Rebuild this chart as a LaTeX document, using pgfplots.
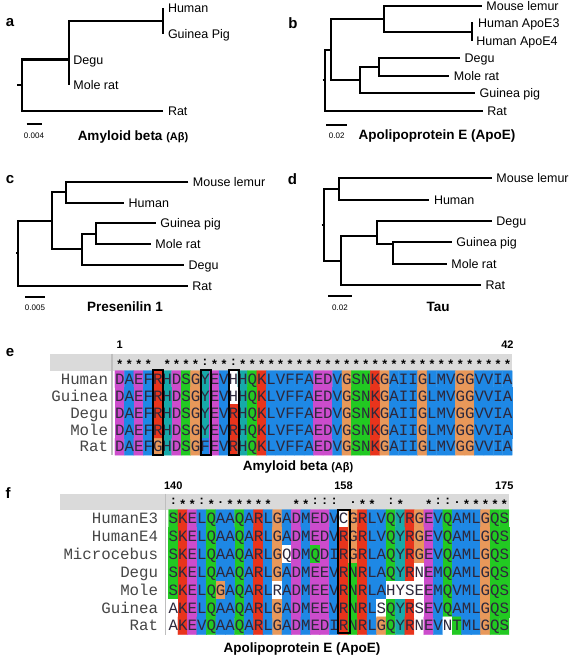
\documentclass[border=0pt]{standalone}
\usepackage{pgfplots}
\pgfplotsset{compat=1.18}
\usepackage{fontspec}
\setmainfont{Liberation Sans}
\newfontfamily\seqfont{Liberation Mono}
\definecolor{hdr}{RGB}{218,218,218}
\definecolor{sepc}{RGB}{190,190,190}
\definecolor{seqtxt}{RGB}{45,40,60}
\definecolor{nametxt}{RGB}{70,70,70}
\pgfplotsset{
  colormap={clustal}{rgb255=(255,255,255) rgb255=(30,136,229) rgb255=(232,52,28) rgb255=(204,76,204) rgb255=(34,201,34) rgb255=(232,152,90) rgb255=(23,169,169)},
  treeax/.style={scale only axis, axis lines=none, clip=false, y dir=reverse, anchor=north west, ymin=1, xmin=0},
  alnax/.style={scale only axis, axis lines=none, clip=false, y dir=reverse, anchor=north west, colormap name=clustal, colormap access=direct},
  br/.style={black, line width=2pt, line join=miter, no markers},
  bx/.style={black, line width=2pt, line join=miter, line cap=rect, no markers},
}
\tikzset{
  lab/.style={anchor=base west, inner sep=0pt, xshift=4.5pt, yshift=-4.5pt, font=\fontsize{12.5}{14}\selectfont},
  plet/.style={font=\bfseries\fontsize{15}{18}\selectfont, inner sep=0pt},
  ttl/.style={anchor=base, inner sep=0pt, yshift=-4.8pt, font=\bfseries\fontsize{13.5}{16}\selectfont},
  scl/.style={inner sep=0pt, font=\fontsize{8}{9}\selectfont},
  seq/.style={anchor=base west, inner sep=0pt, yshift=-5.2pt, text=seqtxt},
  nam/.style={anchor=base east, inner sep=0pt, yshift=-5.2pt, text=nametxt},
  num/.style={inner sep=0pt, font=\bfseries\fontsize{11}{13}\selectfont},
}
\newcommand\sq[1]{{\seqfont\fontsize{15.76}{18}\selectfont #1}}
\newcommand\cons[1]{{\bfseries\fontsize{12.5}{14}\selectfont\consi#1\relax}}
\def\consi#1{\ifx#1\relax\else\makebox[9.457pt]{\conschar#1}\expandafter\consi\fi}
\def\conschar#1{\ifx#1:\raisebox{3.2pt}{:}\else\ifx#1.\raisebox{4.4pt}{.}\else\ifx#1-\else#1\fi\fi\fi}
\begin{document}
\begin{tikzpicture}
\path[use as bounding box, fill=white] (0,0) rectangle (572pt,-661pt);
% panel letters
\node[plet] at (10pt,-23pt) {a};
\node[plet] at (293pt,-23pt) {b};
\node[plet] at (10pt,-180pt) {c};
\node[plet] at (292.5pt,-179pt) {d};
\node[plet] at (10pt,-352.7pt) {e};
\node[plet] at (8pt,-493.3pt) {f};
% titles and scale labels
\node[ttl] at (133pt,-136pt) {Amyloid beta {\fontsize{11}{13}\selectfont(Aβ)}};
\node[ttl] at (437pt,-135pt) {Apolipoprotein E (ApoE)};
\node[ttl] at (125pt,-306.5pt) {Presenilin 1};
\node[ttl] at (438pt,-306.5pt) {Tau};
\node[ttl] at (298pt,-466pt) {Amyloid beta {\fontsize{11}{13}\selectfont(Aβ)}};
\node[ttl] at (302pt,-647.3pt) {Apolipoprotein E (ApoE)};
\node[scl] at (34pt,-136pt) {0.004};
\node[scl] at (336.7pt,-136pt) {0.02};
\node[scl] at (35pt,-307.5pt) {0.005};
\node[scl] at (340pt,-307.5pt) {0.02};

% ---------- tree a : Amyloid beta ----------
\begin{axis}[treeax, at={(21.7pt,-8pt)}, width=150pt, height=103pt, xmax=0.04, ymax=5]
\addplot[br] coordinates {(-0.00125,4) (0,4)};
\addplot[br] coordinates {(0.01253,3) (0,3) (0,5) (0.03776,5)};
\addplot[br] coordinates {(0.03776,1.5) (0.01253,1.5) (0.01253,4)};
\addplot[br] coordinates {(0.03776,1) (0.03776,2)};
\addplot[br] coordinates {(0.00133,5.52) (0.00533,5.52)};
\node[lab] at (axis cs:0.03776,1) {Human};
\node[lab] at (axis cs:0.03776,2) {Guinea Pig};
\node[lab] at (axis cs:0.01253,3) {Degu};
\node[lab] at (axis cs:0.01253,4) {Mole rat};
\node[lab] at (axis cs:0.03776,5) {Rat};
\end{axis}

% ---------- tree b : ApoE ----------
\begin{axis}[treeax, at={(325pt,-6pt)}, width=160pt, height=105pt, xmax=0.1501, ymax=7]
\addplot[br] coordinates {(-0.0022,5.25) (0,5.25)};
\addplot[br] coordinates {(0.00535,3.5) (0,3.5) (0,7) (0.1479,7)};
\addplot[br] coordinates {(0.0556,1.75) (0.00535,1.75) (0.00535,5.25) (0.0328,5.25)};
\addplot[br] coordinates {(0.1470,1) (0.0556,1) (0.0556,2.5) (0.1376,2.5)};
\addplot[br] coordinates {(0.1393,2) (0.1376,2) (0.1376,3)};
\addplot[br] coordinates {(0.0507,4.5) (0.0328,4.5) (0.0328,6) (0.1407,6)};
\addplot[br] coordinates {(0.1266,4) (0.0507,4) (0.0507,5) (0.1166,5)};
\addplot[br] coordinates {(0.00094,7.82) (0.02092,7.82)};
\node[lab] at (axis cs:0.1470,1) {Mouse lemur};
\node[lab] at (axis cs:0.1393,2) {Human ApoE3};
\node[lab] at (axis cs:0.1376,3) {Human ApoE4};
\node[lab] at (axis cs:0.1266,4) {Degu};
\node[lab] at (axis cs:0.1166,5) {Mole rat};
\node[lab] at (axis cs:0.1407,6) {Guinea pig};
\node[lab] at (axis cs:0.1479,7) {Rat};
\end{axis}

% ---------- tree c : Presenilin 1 ----------
\begin{axis}[treeax, at={(18.3pt,-181.7pt)}, width=172pt, height=104pt, xmax=0.043, ymax=6]
\addplot[br] coordinates {(-0.0005,4.44) (0,4.44)};
\addplot[br] coordinates {(0.0085,2.875) (0,2.875) (0,6) (0.04235,6)};
\addplot[br] coordinates {(0.01193,1.5) (0.0085,1.5) (0.0085,4.25) (0.016,4.25)};
\addplot[br] coordinates {(0.0425,1) (0.01193,1) (0.01193,2) (0.02643,2)};
\addplot[br] coordinates {(0.01935,3.5) (0.016,3.5) (0.016,5) (0.04143,5)};
\addplot[br] coordinates {(0.03435,3) (0.01935,3) (0.01935,4) (0.0331,4)};
\addplot[br] coordinates {(0.00168,6.53) (0.00668,6.53)};
\node[lab] at (axis cs:0.0425,1) {Mouse lemur};
\node[lab] at (axis cs:0.02643,2) {Human};
\node[lab] at (axis cs:0.03435,3) {Guinea pig};
\node[lab] at (axis cs:0.0331,4) {Mole rat};
\node[lab] at (axis cs:0.04143,5) {Degu};
\node[lab] at (axis cs:0.04235,6) {Rat};
\end{axis}

% ---------- tree d : Tau ----------
\begin{axis}[treeax, at={(324pt,-178.3pt)}, width=170pt, height=106.7pt, xmax=0.14167, ymax=6]
\addplot[br] coordinates {(-0.0019,3.19) (0,3.19)};
\addplot[br] coordinates {(0.01275,1.5) (0,1.5) (0,4.87) (0.01392,4.87)};
\addplot[br] coordinates {(0.13975,1) (0.01275,1) (0.01275,2) (0.08775,2)};
\addplot[br] coordinates {(0.04442,3.71) (0.01392,3.71) (0.01392,6) (0.13083,6)};
\addplot[br] coordinates {(0.13975,3) (0.04442,3) (0.04442,4.1) (0.05725,4.1)};
\addplot[br] coordinates {(0.10642,4) (0.05725,4) (0.05725,5) (0.10225,5)};
\addplot[br] coordinates {(0.00358,6.53) (0.02358,6.53)};
\node[lab] at (axis cs:0.13975,1) {Mouse lemur};
\node[lab] at (axis cs:0.08775,2) {Human};
\node[lab] at (axis cs:0.13975,3) {Degu};
\node[lab] at (axis cs:0.10642,4) {Guinea pig};
\node[lab] at (axis cs:0.10225,5) {Mole rat};
\node[lab] at (axis cs:0.13083,6) {Rat};
\end{axis}

% ---------- e : Amyloid beta alignment ----------
\begin{axis}[alnax, at={(115pt,-370.7pt)}, width=397.2pt, height=84.5pt, xmin=0.5, xmax=42.5, ymin=0.5, ymax=5.5]
\fill[hdr] (axis cs:-6.37,-0.5) rectangle (axis cs:42.5,0.5);
\draw[sepc, line width=1.5pt] (axis cs:0.183,-0.5) -- (axis cs:0.183,5.5);
\addplot[matrix plot*, mesh/cols=42, point meta=explicit] table[row sep=\\, meta=c] {
x y c\\
1 1 3\\2 1 1\\3 1 3\\4 1 1\\5 1 2\\6 1 6\\7 1 3\\8 1 4\\9 1 5\\10 1 6\\11 1 3\\12 1 1\\13 1 0\\14 1 6\\15 1 4\\16 1 2\\17 1 1\\18 1 1\\19 1 1\\20 1 1\\21 1 1\\
22 1 3\\23 1 3\\24 1 1\\25 1 5\\26 1 4\\27 1 4\\28 1 2\\29 1 5\\30 1 1\\31 1 1\\32 1 1\\33 1 5\\34 1 1\\35 1 1\\36 1 1\\37 1 5\\38 1 5\\39 1 1\\40 1 1\\41 1 1\\42 1 1\\
1 2 3\\2 2 1\\3 2 3\\4 2 1\\5 2 2\\6 2 6\\7 2 3\\8 2 4\\9 2 5\\10 2 6\\11 2 3\\12 2 1\\13 2 0\\14 2 6\\15 2 4\\16 2 2\\17 2 1\\18 2 1\\19 2 1\\20 2 1\\21 2 1\\
22 2 3\\23 2 3\\24 2 1\\25 2 5\\26 2 4\\27 2 4\\28 2 2\\29 2 5\\30 2 1\\31 2 1\\32 2 1\\33 2 5\\34 2 1\\35 2 1\\36 2 1\\37 2 5\\38 2 5\\39 2 1\\40 2 1\\41 2 1\\42 2 1\\
1 3 3\\2 3 1\\3 3 3\\4 3 1\\5 3 2\\6 3 6\\7 3 3\\8 3 4\\9 3 5\\10 3 6\\11 3 3\\12 3 1\\13 3 2\\14 3 6\\15 3 4\\16 3 2\\17 3 1\\18 3 1\\19 3 1\\20 3 1\\21 3 1\\
22 3 3\\23 3 3\\24 3 1\\25 3 5\\26 3 4\\27 3 4\\28 3 2\\29 3 5\\30 3 1\\31 3 1\\32 3 1\\33 3 5\\34 3 1\\35 3 1\\36 3 1\\37 3 5\\38 3 5\\39 3 1\\40 3 1\\41 3 1\\42 3 1\\
1 4 3\\2 4 1\\3 4 3\\4 4 1\\5 4 2\\6 4 6\\7 4 3\\8 4 4\\9 4 5\\10 4 6\\11 4 3\\12 4 1\\13 4 2\\14 4 6\\15 4 4\\16 4 2\\17 4 1\\18 4 1\\19 4 1\\20 4 1\\21 4 1\\
22 4 3\\23 4 3\\24 4 1\\25 4 5\\26 4 4\\27 4 4\\28 4 2\\29 4 5\\30 4 1\\31 4 1\\32 4 1\\33 4 5\\34 4 1\\35 4 1\\36 4 1\\37 4 5\\38 4 5\\39 4 1\\40 4 1\\41 4 1\\42 4 1\\
1 5 3\\2 5 1\\3 5 3\\4 5 1\\5 5 5\\6 5 6\\7 5 3\\8 5 4\\9 5 5\\10 5 1\\11 5 3\\12 5 1\\13 5 2\\14 5 6\\15 5 4\\16 5 2\\17 5 1\\18 5 1\\19 5 1\\20 5 1\\21 5 1\\
22 5 3\\23 5 3\\24 5 1\\25 5 5\\26 5 4\\27 5 4\\28 5 2\\29 5 5\\30 5 1\\31 5 1\\32 5 1\\33 5 5\\34 5 1\\35 5 1\\36 5 1\\37 5 5\\38 5 5\\39 5 1\\40 5 1\\41 5 1\\42 5 1\\
};
\node[seq] at (axis cs:0.5,1) {\sq{DAEFRHDSGYEVHHQKLVFFAEDVGSNKGAIIGLMVGGVVIA}};
\node[seq] at (axis cs:0.5,2) {\sq{DAEFRHDSGYEVHHQKLVFFAEDVGSNKGAIIGLMVGGVVIA}};
\node[seq] at (axis cs:0.5,3) {\sq{DAEFRHDSGYEVRHQKLVFFAEDVGSNKGAIIGLMVGGVVIA}};
\node[seq] at (axis cs:0.5,4) {\sq{DAEFRHDSGYEVRHQKLVFFAEDVGSNKGAIIGLMVGGVVIA}};
\node[seq] at (axis cs:0.5,5) {\sq{DAEFGHDSGFEVRHQKLVFFAEDVGSNKGAIIGLMVGGVVIA}};
\node[nam] at (axis cs:-0.21,1) {\sq{Human}};
\node[nam] at (axis cs:-0.21,2) {\sq{Guinea}};
\node[nam] at (axis cs:-0.21,3) {\sq{Degu}};
\node[nam] at (axis cs:-0.21,4) {\sq{Mole}};
\node[nam] at (axis cs:-0.21,5) {\sq{Rat}};
\node[anchor=base west, inner sep=0pt, yshift=-6.3pt] at (axis cs:0.5,0) {\cons{****-****:**:*****************************}};
\node[num] at (axis cs:1,-1.02) {1};
\node[num] at (axis cs:42,-1.02) {42};
\addplot[bx] coordinates {(4.55,0.46) (5.62,0.46) (5.62,5.47) (4.55,5.47) (4.55,0.46)};
\addplot[bx] coordinates {(9.55,0.46) (10.62,0.46) (10.62,5.47) (9.55,5.47) (9.55,0.46)};
\addplot[bx] coordinates {(12.55,0.46) (13.62,0.46) (13.62,5.47) (12.55,5.47) (12.55,0.46)};
\end{axis}

% ---------- f : ApoE alignment ----------
\begin{axis}[alnax, at={(168.5pt,-509.7pt)}, width=340.45pt, height=125pt, xmin=139.5, xmax=175.5, ymin=0.5, ymax=7.5]
\fill[hdr] (axis cs:128.03,-0.38) rectangle (axis cs:175.5,0.5);
\draw[sepc, line width=1.5pt] (axis cs:139.18,-0.38) -- (axis cs:139.18,7.5);
\addplot[matrix plot*, mesh/cols=36, point meta=explicit] table[row sep=\\, meta=c] {
x y c\\
140 1 4\\141 1 2\\142 1 3\\143 1 1\\144 1 4\\145 1 1\\146 1 1\\147 1 4\\148 1 1\\149 1 2\\150 1 1\\151 1 5\\152 1 1\\153 1 3\\154 1 1\\155 1 3\\156 1 3\\157 1 1\\
158 1 0\\159 1 5\\160 1 2\\161 1 1\\162 1 1\\163 1 4\\164 1 6\\165 1 2\\166 1 5\\167 1 3\\168 1 1\\169 1 4\\170 1 1\\171 1 1\\172 1 1\\173 1 5\\174 1 4\\175 1 4\\
140 2 4\\141 2 2\\142 2 3\\143 2 1\\144 2 4\\145 2 1\\146 2 1\\147 2 4\\148 2 1\\149 2 2\\150 2 1\\151 2 5\\152 2 1\\153 2 3\\154 2 1\\155 2 3\\156 2 3\\157 2 1\\
158 2 2\\159 2 5\\160 2 2\\161 2 1\\162 2 1\\163 2 4\\164 2 6\\165 2 2\\166 2 5\\167 2 3\\168 2 1\\169 2 4\\170 2 1\\171 2 1\\172 2 1\\173 2 5\\174 2 4\\175 2 4\\
140 3 4\\141 3 2\\142 3 3\\143 3 1\\144 3 4\\145 3 1\\146 3 1\\147 3 4\\148 3 1\\149 3 2\\150 3 1\\151 3 5\\152 3 0\\153 3 3\\154 3 1\\155 3 4\\156 3 3\\157 3 1\\
158 3 2\\159 3 5\\160 3 2\\161 3 1\\162 3 1\\163 3 4\\164 3 6\\165 3 2\\166 3 5\\167 3 3\\168 3 1\\169 3 4\\170 3 1\\171 3 1\\172 3 1\\173 3 5\\174 3 4\\175 3 4\\
140 4 4\\141 4 2\\142 4 3\\143 4 1\\144 4 4\\145 4 1\\146 4 1\\147 4 4\\148 4 1\\149 4 2\\150 4 1\\151 4 5\\152 4 1\\153 4 3\\154 4 1\\155 4 3\\156 4 3\\157 4 1\\
158 4 2\\159 4 4\\160 4 2\\161 4 1\\162 4 1\\163 4 4\\164 4 6\\165 4 2\\166 4 0\\167 4 3\\168 4 1\\169 4 4\\170 4 1\\171 4 1\\172 4 1\\173 4 5\\174 4 4\\175 4 4\\
140 5 4\\141 5 2\\142 5 3\\143 5 1\\144 5 4\\145 5 5\\146 5 1\\147 5 4\\148 5 1\\149 5 2\\150 5 1\\151 5 0\\152 5 1\\153 5 3\\154 5 1\\155 5 3\\156 5 3\\157 5 1\\
158 5 2\\159 5 4\\160 5 2\\161 5 1\\162 5 1\\163 5 0\\164 5 0\\165 5 0\\166 5 0\\167 5 3\\168 5 1\\169 5 4\\170 5 1\\171 5 1\\172 5 1\\173 5 5\\174 5 4\\175 5 4\\
140 6 0\\141 6 2\\142 6 3\\143 6 1\\144 6 4\\145 6 1\\146 6 1\\147 6 4\\148 6 1\\149 6 2\\150 6 1\\151 6 5\\152 6 1\\153 6 3\\154 6 1\\155 6 3\\156 6 3\\157 6 1\\
158 6 2\\159 6 4\\160 6 2\\161 6 1\\162 6 0\\163 6 4\\164 6 6\\165 6 2\\166 6 0\\167 6 3\\168 6 1\\169 6 4\\170 6 1\\171 6 1\\172 6 1\\173 6 5\\174 6 4\\175 6 4\\
140 7 0\\141 7 2\\142 7 3\\143 7 1\\144 7 4\\145 7 1\\146 7 1\\147 7 4\\148 7 1\\149 7 2\\150 7 1\\151 7 5\\152 7 1\\153 7 3\\154 7 1\\155 7 3\\156 7 3\\157 7 1\\
158 7 2\\159 7 4\\160 7 2\\161 7 1\\162 7 5\\163 7 4\\164 7 6\\165 7 2\\166 7 0\\167 7 3\\168 7 1\\169 7 0\\170 7 4\\171 7 1\\172 7 1\\173 7 5\\174 7 4\\175 7 4\\
};
\node[seq] at (axis cs:139.5,1) {\sq{SKELQAAQARLGADMEDVCGRLVQYRGEVQAMLGQS}};
\node[seq] at (axis cs:139.5,2) {\sq{SKELQAAQARLGADMEDVRGRLVQYRGEVQAMLGQS}};
\node[seq] at (axis cs:139.5,3) {\sq{SKELQAAQARLGQDMQDIRGRLAQYRGEVQAMLGQS}};
\node[seq] at (axis cs:139.5,4) {\sq{SKELQAAQARLGADMEEVRNRLAQYRNEMQAMLGQS}};
\node[seq] at (axis cs:139.5,5) {\sq{SKELQGAQARLRADMEEVRNRLAHYSEEMQVMLGQS}};
\node[seq] at (axis cs:139.5,6) {\sq{AKELQAAQARLGADMEEVRNRLSQYRSEVQAMLGQS}};
\node[seq] at (axis cs:139.5,7) {\sq{AKEVQAAQARLGADMEDIRNRLGQYRNEVNTMLGQS}};
\node[nam] at (axis cs:138.42,1) {\sq{HumanE3}};
\node[nam] at (axis cs:138.42,2) {\sq{HumanE4}};
\node[nam] at (axis cs:138.42,3) {\sq{Microcebus}};
\node[nam] at (axis cs:138.42,4) {\sq{Degu}};
\node[nam] at (axis cs:138.42,5) {\sq{Mole}};
\node[nam] at (axis cs:138.42,6) {\sq{Guinea}};
\node[nam] at (axis cs:138.42,7) {\sq{Rat}};
\node[anchor=base west, inner sep=0pt, yshift=-6.3pt] at (axis cs:139.5,0.06) {\cons{:**:*.*****--**:::-.**-:*--*::.*****}};
\node[num] at (axis cs:140,-0.83) {140};
\node[num] at (axis cs:158,-0.83) {158};
\node[num] at (axis cs:175,-0.83) {175};
\addplot[bx] coordinates {(157.46,0.52) (158.66,0.52) (158.66,7.42) (157.46,7.42) (157.46,0.52)};
\end{axis}
\end{tikzpicture}
\end{document}
